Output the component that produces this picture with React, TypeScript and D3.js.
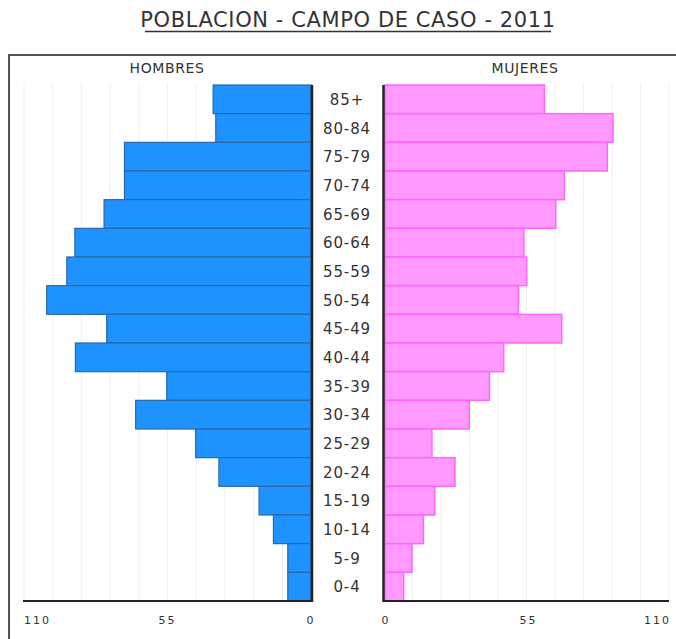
import React from "react";
import * as d3 from "d3";

const ageGroups = ["85+", "80-84", "75-79", "70-74", "65-69", "60-64", "55-59", "50-54", "45-49", "40-44", "35-39", "30-34", "25-29", "20-24", "15-19", "10-14", "5-9", "0-4"];
const hombres = [37.5, 36.5, 71.5, 71.5, 79.3, 90.5, 93.6, 101.3, 78.3, 90.3, 55.3, 67.2, 44.2, 35.3, 19.9, 14.4, 8.9, 8.9];
const mujeres = [61.9, 88.4, 86.2, 69.6, 66.3, 54, 55.1, 51.9, 68.6, 46.2, 40.7, 32.9, 18.5, 27.4, 19.6, 15.2, 10.8, 7.6];
const tickValues = [0, 55, 110];
const gridValues = d3.range(0, 111, 11);
const title = "POBLACION - CAMPO DE CASO - 2011";

export default function App() {
  const W = 676, H = 639;
  const top = 85, bottom = 601;
  const y = d3.scaleBand<string>().domain(ageGroups).range([top, bottom]).padding(0);
  const xL = d3.scaleLinear().domain([0, 110]).range([311, 24]);
  const xR = d3.scaleLinear().domain([0, 110]).range([384, 669]);
  const font = "'DejaVu Sans', Verdana, sans-serif";

  return (
    <svg width={W} height={H} style={{ position: "absolute", left: 0, top: 0 }} fontFamily={font}>
      <rect x={0} y={0} width={W} height={H} fill="#fff" />
      <text x={348} y={27} textAnchor="middle" fontSize={21} letterSpacing={0.6} fill="#333">{title}</text>
      <line x1={145} x2={551} y1={31.5} y2={31.5} stroke="#333" strokeWidth={1.5} />
      <rect x={9} y={55} width={700} height={700} fill="none" stroke="#555" strokeWidth={2} />
      <text x={167} y={73} textAnchor="middle" fontSize={14} letterSpacing={0.6} fill="#333">HOMBRES</text>
      <text x={525} y={73} textAnchor="middle" fontSize={14} letterSpacing={0.6} fill="#333">MUJERES</text>
      {gridValues.map((v) => (
        <g key={v}>
          <line x1={xL(v)} x2={xL(v)} y1={84} y2={bottom} stroke="#f0f0f0" strokeWidth={1} />
          <line x1={xR(v)} x2={xR(v)} y1={84} y2={bottom} stroke="#f0f0f0" strokeWidth={1} />
        </g>
      ))}
      {ageGroups.map((g, i) => (
        <g key={g}>
          <rect x={xL(hombres[i])} y={y(g)!} width={xL(0) - xL(hombres[i])} height={y.bandwidth()} fill="#1e93ff" stroke="#2a68a8" strokeWidth={1.2} />
          <rect x={xR(0) + 1} y={y(g)!} width={xR(mujeres[i]) - xR(0) - 1} height={y.bandwidth()} fill="#ff99ff" stroke="#ff66ff" strokeWidth={1.5} />
          <text x={347} y={y(g)! + y.bandwidth() / 2 + 5.5} textAnchor="middle" fontSize={15} letterSpacing={0.9} fill="#333">{g}</text>
        </g>
      ))}
      <line x1={312} x2={312} y1={top} y2={bottom + 1} stroke="#222" strokeWidth={2.5} />
      <line x1={383.5} x2={383.5} y1={top} y2={bottom + 1} stroke="#222" strokeWidth={2.5} />
      <line x1={23} x2={313} y1={601} y2={601} stroke="#222" strokeWidth={2} />
      <line x1={383} x2={669} y1={601} y2={601} stroke="#222" strokeWidth={2} />
      {tickValues.map((v) => (
        <g key={v}>
          <text x={xL(v)} y={624} textAnchor={v === 110 ? "start" : "middle"} fontSize={11} fill="#333" letterSpacing={2}>{v}</text>
          <text x={xR(v) + 2} y={624} textAnchor={v === 110 ? "end" : "middle"} fontSize={11} fill="#333" letterSpacing={2}>{v}</text>
        </g>
      ))}
    </svg>
  );
}
